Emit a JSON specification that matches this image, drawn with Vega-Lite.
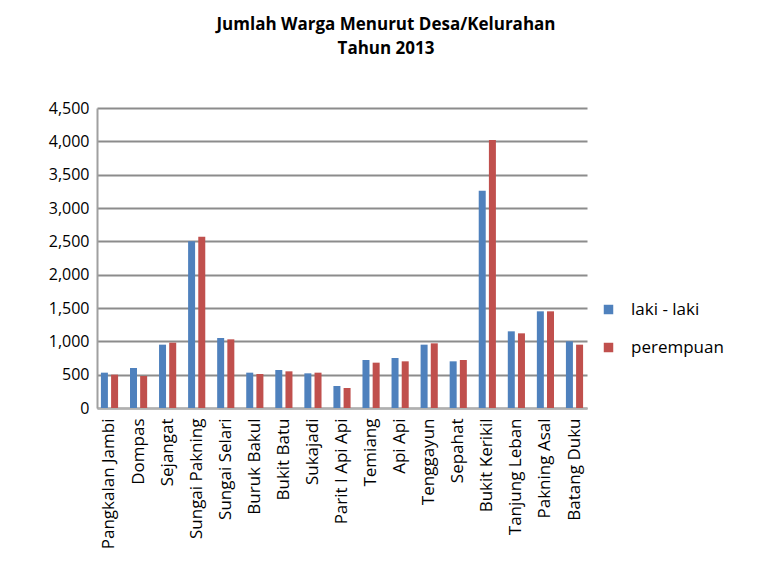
{
  "$schema": "https://vega.github.io/schema/vega-lite/v6.json",
  "width": 490,
  "height": 300,
  "autosize": {"type": "none"},
  "padding": {"left": 97, "top": 108, "right": 176, "bottom": 174},
  "background": "white",
  "title": {
    "text": ["Jumlah Warga Menurut Desa/Kelurahan", "Tahun 2013"],
    "font": "Open Sans",
    "fontSize": 17,
    "fontWeight": "bold",
    "color": "#000000",
    "anchor": "middle",
    "dx": 44,
    "offset": 42,
    "lineHeight": 24
  },
  "data": {
    "values": [
      {"desa": "Pangkalan Jambi", "jenis": "laki - laki", "jumlah": 530},
      {"desa": "Pangkalan Jambi", "jenis": "perempuan", "jumlah": 500},
      {"desa": "Dompas", "jenis": "laki - laki", "jumlah": 600},
      {"desa": "Dompas", "jenis": "perempuan", "jumlah": 480},
      {"desa": "Sejangat", "jenis": "laki - laki", "jumlah": 950},
      {"desa": "Sejangat", "jenis": "perempuan", "jumlah": 980},
      {"desa": "Sungai Pakning", "jenis": "laki - laki", "jumlah": 2500},
      {"desa": "Sungai Pakning", "jenis": "perempuan", "jumlah": 2570},
      {"desa": "Sungai Selari", "jenis": "laki - laki", "jumlah": 1050},
      {"desa": "Sungai Selari", "jenis": "perempuan", "jumlah": 1030},
      {"desa": "Buruk Bakul", "jenis": "laki - laki", "jumlah": 530},
      {"desa": "Buruk Bakul", "jenis": "perempuan", "jumlah": 510},
      {"desa": "Bukit Batu", "jenis": "laki - laki", "jumlah": 570},
      {"desa": "Bukit Batu", "jenis": "perempuan", "jumlah": 550},
      {"desa": "Sukajadi", "jenis": "laki - laki", "jumlah": 520},
      {"desa": "Sukajadi", "jenis": "perempuan", "jumlah": 530},
      {"desa": "Parit I Api Api", "jenis": "laki - laki", "jumlah": 330},
      {"desa": "Parit I Api Api", "jenis": "perempuan", "jumlah": 300},
      {"desa": "Temiang", "jenis": "laki - laki", "jumlah": 720},
      {"desa": "Temiang", "jenis": "perempuan", "jumlah": 680},
      {"desa": "Api Api", "jenis": "laki - laki", "jumlah": 750},
      {"desa": "Api Api", "jenis": "perempuan", "jumlah": 700},
      {"desa": "Tenggayun", "jenis": "laki - laki", "jumlah": 950},
      {"desa": "Tenggayun", "jenis": "perempuan", "jumlah": 970},
      {"desa": "Sepahat", "jenis": "laki - laki", "jumlah": 700},
      {"desa": "Sepahat", "jenis": "perempuan", "jumlah": 720},
      {"desa": "Bukit Kerikil", "jenis": "laki - laki", "jumlah": 3260},
      {"desa": "Bukit Kerikil", "jenis": "perempuan", "jumlah": 4020},
      {"desa": "Tanjung Leban", "jenis": "laki - laki", "jumlah": 1150},
      {"desa": "Tanjung Leban", "jenis": "perempuan", "jumlah": 1120},
      {"desa": "Pakning Asal", "jenis": "laki - laki", "jumlah": 1450},
      {"desa": "Pakning Asal", "jenis": "perempuan", "jumlah": 1450},
      {"desa": "Batang Duku", "jenis": "laki - laki", "jumlah": 1000},
      {"desa": "Batang Duku", "jenis": "perempuan", "jumlah": 950}
    ]
  },
  "mark": {"type": "bar", "width": 7},
  "encoding": {
    "x": {
      "field": "desa",
      "type": "nominal",
      "sort": null,
      "title": null,
      "scale": {"paddingInner": 0.3, "paddingOuter": 0.08},
      "axis": {
        "labelAngle": -90,
        "labelFont": "Open Sans",
        "labelFontSize": 17,
        "labelColor": "#000000",
        "labelPadding": 10,
        "ticks": false,
        "domainColor": "#b0b0b0",
        "domainWidth": 2,
        "labelLimit": 200
      }
    },
    "xOffset": {"field": "jenis", "type": "nominal", "scale": {"paddingInner": 0}},
    "y": {
      "field": "jumlah",
      "type": "quantitative",
      "title": null,
      "scale": {"domain": [0, 4500]},
      "axis": {
        "values": [0, 500, 1000, 1500, 2000, 2500, 3000, 3500, 4000, 4500],
        "format": ",.0f",
        "labelFont": "Open Sans",
        "labelFontSize": 16,
        "labelColor": "#000000",
        "labelPadding": 8,
        "ticks": false,
        "grid": true,
        "gridColor": "#8c8c8c",
        "gridWidth": 2,
        "domainColor": "#a0a0a0",
        "domainWidth": 2
      }
    },
    "color": {
      "field": "jenis",
      "type": "nominal",
      "title": null,
      "scale": {"domain": ["laki - laki", "perempuan"], "range": ["#4F81BD", "#C0504D"]},
      "legend": {
        "orient": "none",
        "legendX": 503,
        "legendY": 193,
        "symbolType": "square",
        "symbolSize": 90,
        "symbolStrokeWidth": 0,
        "labelFont": "Open Sans",
        "labelFontSize": 17,
        "labelColor": "#000000",
        "labelOffset": 14,
        "rowPadding": 20
      }
    }
  },
  "config": {"view": {"stroke": null}}
}
